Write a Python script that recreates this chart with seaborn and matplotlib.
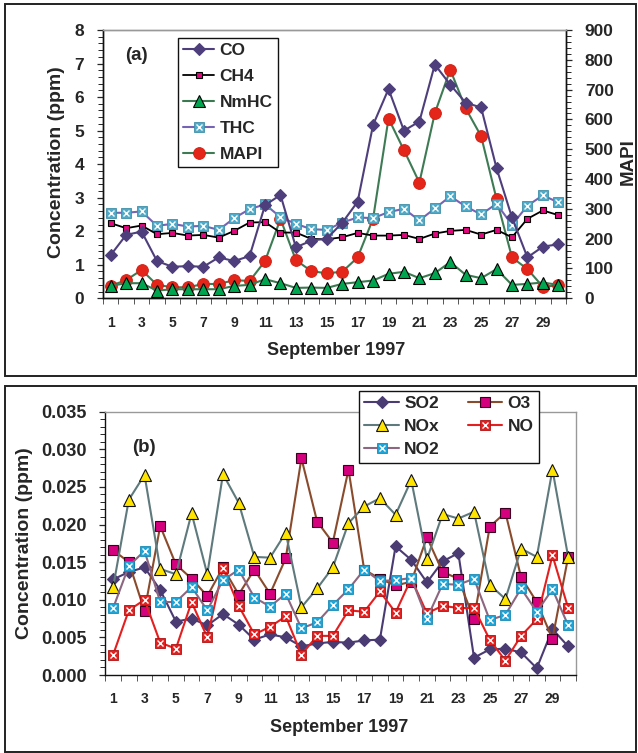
import numpy as np
import pandas as pd
import matplotlib
matplotlib.use("Agg")
import matplotlib.pyplot as plt
import seaborn as sns
from matplotlib.patches import Rectangle
from matplotlib.ticker import MultipleLocator, FixedLocator, FormatStrFormatter

# ---------------- data ----------------
days = list(range(1, 31))
day_labels = [str(d) for d in range(1, 30, 2)]

CO = [1.29, 1.89, 1.99, 1.11, 0.94, 0.96, 0.94, 1.22, 1.11, 1.26, 2.78, 3.08, 1.52, 1.72, 1.78,
      2.25, 2.88, 5.17, 6.24, 5.00, 5.27, 6.97, 6.37, 5.83, 5.69, 3.88, 2.41, 1.22, 1.54, 1.61]
CH4 = [2.24, 2.09, 2.17, 1.91, 1.95, 1.87, 1.89, 1.81, 2.01, 2.26, 2.27, 1.96, 1.96, 1.77, 1.76,
       1.82, 1.95, 1.87, 1.87, 1.89, 1.77, 1.93, 2.01, 2.04, 1.90, 2.04, 1.82, 2.37, 2.62, 2.48]
NmHC = [0.37, 0.45, 0.45, 0.23, 0.27, 0.27, 0.27, 0.27, 0.37, 0.40, 0.57, 0.45, 0.31, 0.32, 0.31,
        0.43, 0.48, 0.53, 0.73, 0.79, 0.60, 0.75, 1.08, 0.70, 0.60, 0.87, 0.40, 0.43, 0.47, 0.40]
THC = [2.55, 2.55, 2.59, 2.16, 2.22, 2.14, 2.16, 2.04, 2.39, 2.66, 2.80, 2.42, 2.22, 2.06, 2.04,
       2.26, 2.41, 2.39, 2.57, 2.67, 2.32, 2.68, 3.04, 2.74, 2.50, 2.82, 2.19, 2.76, 3.07, 2.86]
MAPI = [42, 61, 95, 45, 37, 37, 48, 48, 61, 58, 125, 266, 128, 91, 84,
        89, 137, 267, 603, 497, 388, 621, 767, 637, 544, 333, 137, 98, 39, 43]

SO2 = [0.0127, 0.0137, 0.0143, 0.0113, 0.0071, 0.0075, 0.0066, 0.0081, 0.0067, 0.0047, 0.0054, 0.0050,
       0.0038, 0.0042, 0.0044, 0.0043, 0.0046, 0.0047, 0.0171, 0.0153, 0.0123, 0.0151, 0.0162, 0.0023,
       0.0034, 0.0035, 0.0030, 0.0009, 0.0061, 0.0038]
O3 = [0.0166, 0.0150, 0.0085, 0.0198, 0.0147, 0.0128, 0.0105, 0.0143, 0.0107, 0.0140, 0.0108, 0.0155,
      0.0288, 0.0204, 0.0176, 0.0273, 0.0140, 0.0128, 0.0119, 0.0124, 0.0183, 0.0137, 0.0128, 0.0074,
      0.0197, 0.0216, 0.0130, 0.0097, 0.0048, 0.0157]
NOx = [0.0117, 0.0233, 0.0266, 0.0141, 0.0134, 0.0215, 0.0134, 0.0267, 0.0229, 0.0157, 0.0156, 0.0189,
       0.0090, 0.0115, 0.0143, 0.0202, 0.0224, 0.0235, 0.0213, 0.0259, 0.0154, 0.0214, 0.0208, 0.0217,
       0.0120, 0.0101, 0.0168, 0.0157, 0.0273, 0.0157]
NO = [0.0027, 0.0086, 0.0100, 0.0043, 0.0035, 0.0097, 0.0050, 0.0142, 0.0092, 0.0054, 0.0064, 0.0078,
      0.0027, 0.0052, 0.0052, 0.0086, 0.0084, 0.0111, 0.0083, 0.0128, 0.0082, 0.0092, 0.0089, 0.0089,
      0.0047, 0.0019, 0.0052, 0.0074, 0.0159, 0.0089]
NO2 = [0.0089, 0.0145, 0.0165, 0.0097, 0.0097, 0.0117, 0.0086, 0.0126, 0.0140, 0.0103, 0.0091, 0.0108,
       0.0062, 0.0070, 0.0093, 0.0114, 0.0140, 0.0125, 0.0126, 0.0129, 0.0075, 0.0121, 0.0120, 0.0128,
       0.0073, 0.0080, 0.0115, 0.0084, 0.0114, 0.0066]

# ---------------- style ----------------
sns.set_style("ticks")
plt.rcParams['font.family'] = ['Liberation Sans', 'DejaVu Sans']
plt.rcParams['font.weight'] = 'bold'
plt.rcParams['axes.labelweight'] = 'bold'

fig = plt.figure(figsize=(6.38, 7.53), dpi=100)
W, H = 638.0, 753.0


def fx(px):
    return px / W


def fy(py):
    return 1 - py / H


# panel frames
fig.add_artist(Rectangle((fx(5), fy(375.5)), fx(631), (375.5 - 4) / H, transform=fig.transFigure,
                         fill=False, edgecolor='#222222', linewidth=1.4))
fig.add_artist(Rectangle((fx(5), fy(751.5)), fx(631), (751.5 - 386) / H, transform=fig.transFigure,
                         fill=False, edgecolor='#222222', linewidth=1.4))

axA = fig.add_axes([fx(103), fy(298.3), fx(566 - 103), (298.3 - 30) / H])
axB = fig.add_axes([fx(105.3), fy(675), fx(576 - 105.3), (675 - 411.7) / H])


def draw(ax, y, color, marker, ms, mfc, mec, lw=1.5, mew=0.8, label=None, z=3):
    sns.lineplot(x=days, y=y, ax=ax, color=color, linewidth=lw, marker=marker, markersize=ms,
                 markerfacecolor=mfc, markeredgecolor=mec, markeredgewidth=mew, legend=False,
                 label=label, zorder=z)
    return ax.lines[-1]


def xover(ax, y, color, ms, mew=1.0, z=4):
    sns.lineplot(x=days, y=y, ax=ax, color=color, linestyle='none', marker='x', markersize=ms,
                 markeredgewidth=mew, legend=False, zorder=z)
    return ax.lines[-1]


def style_x(ax):
    ax.set_xlim(0.5, 30.5)
    ax.xaxis.set_major_locator(FixedLocator(list(range(1, 30, 2))))
    ax.xaxis.set_minor_locator(FixedLocator(list(np.arange(0.5, 31, 1.0))))
    ax.set_xticklabels(day_labels, fontsize=10, fontweight='bold')
    ax.tick_params(axis='x', which='major', length=0, pad=12.5)
    ax.tick_params(axis='x', which='minor', length=4, width=0.7, color='#555555', direction='out')


# ---------------- panel (a) ----------------
axA2 = axA.twinx()
axA.set_zorder(axA2.get_zorder() + 1)
axA.patch.set_visible(False)

hCO = draw(axA, CO, '#4e3f7c', 'D', 6.5, '#4e3f7c', '#4e3f7c', z=5)
hCH4 = draw(axA, CH4, '#000000', 's', 4.2, '#e0087c', '#000000', lw=1.3, z=4)
hNm = draw(axA, NmHC, '#3b7a50', '^', 8, '#00a550', '#000000', z=3)
hTHC = draw(axA, THC, '#7564b4', 's', 7.5, '#4eaac8', '#3f8fa8', mew=0.6, z=3)
hTHCx = xover(axA, THC, '#111111', 5, mew=1.0, z=4)
sns.lineplot(x=days, y=MAPI, ax=axA2, color='#3e7b55', linewidth=1.5, marker='o', markersize=8.5,
             markerfacecolor='#e4261a', markeredgecolor='#d01c10', markeredgewidth=0.6, legend=False)
hMAPI = axA2.lines[-1]

style_x(axA)
axA.set_ylim(0, 8)
axA2.set_ylim(0, 900)

axA.yaxis.set_major_locator(MultipleLocator(1))
axA.yaxis.set_minor_locator(MultipleLocator(0.2))
axA.tick_params(axis='y', which='major', length=4.5, width=0.9, pad=9, labelsize=12.5)
axA.tick_params(axis='y', which='minor', length=3.5, width=0.7)
for t in axA.get_yticklabels():
    t.set_fontweight('bold')

axA2.yaxis.set_major_locator(MultipleLocator(100))
axA2.yaxis.set_minor_locator(MultipleLocator(20))
axA2.tick_params(axis='y', which='major', length=4.5, width=0.9, pad=9, labelsize=12.5)
axA2.tick_params(axis='y', which='minor', length=3.5, width=0.7)
for t in axA2.get_yticklabels():
    t.set_fontweight('bold')

for ax in (axA, axA2):
    for s in ('left', 'bottom', 'right'):
        ax.spines[s].set_color('#111111')
        ax.spines[s].set_linewidth(1.0)
        ax.spines[s].set_visible(True)
    ax.spines['top'].set_visible(True)
    ax.spines['top'].set_color('#999999')
    ax.spines['top'].set_linewidth(1.0)

axA.set_xlabel('September 1997', fontsize=13, fontweight='bold', va='center')
axA.xaxis.set_label_coords(0.504, -0.196)
axA.set_ylabel('Concentration (ppm)', fontsize=14, fontweight='bold', va='center')
axA.yaxis.set_label_coords(-0.1015, 0.506)
axA2.set_ylabel('MAPI', fontsize=13.5, fontweight='bold', va='center')
axA2.yaxis.set_label_coords(1.134, 0.51)

axA.text((136 - 103) / 463, (298.3 - 55.5) / 268.3, '(a)', fontsize=13.5, fontweight='bold',
         ha='center', va='center', transform=axA.transAxes)

legA = fig.legend([hCO, hCH4, hNm, (hTHC, hTHCx), hMAPI], ['CO', 'CH4', 'NmHC', 'THC', 'MAPI'],
                  loc='upper left', bbox_to_anchor=(fx(178), fy(38)), fontsize=12.5,
                  frameon=True, fancybox=False, edgecolor='#111111', framealpha=1,
                  handlelength=1.8, handletextpad=0.3, labelspacing=0.62, borderpad=0.3,
                  borderaxespad=0)
legA.get_frame().set_linewidth(1.0)
for t in legA.get_texts():
    t.set_fontweight('bold')

# ---------------- panel (b) ----------------
hSO2 = draw(axB, SO2, '#4a3b72', 'D', 6, '#4a3b72', '#4a3b72', z=3)
hO3 = draw(axB, O3, '#8a4b2c', 's', 7.5, '#d4007e', '#3a0020', z=3)
hNOx = draw(axB, NOx, '#5f7a7c', '^', 9, '#ffe400', '#111111', z=3)
hNO = draw(axB, NO, '#e41f1f', 's', 7.5, '#e41f1f', '#b01010', mew=0.6, z=3)
hNOxx = xover(axB, NO, '#3aa0c8', 5, mew=1.0, z=4)
hNO2 = draw(axB, NO2, '#8d6680', 's', 7.5, '#1ea4d6', '#1a8ab4', mew=0.6, z=3)
hNO2x = xover(axB, NO2, '#8d6680', 5, mew=1.0, z=4)

style_x(axB)
axB.set_ylim(0, 0.035)
axB.yaxis.set_major_locator(MultipleLocator(0.005))
axB.yaxis.set_minor_locator(MultipleLocator(0.001))
axB.yaxis.set_major_formatter(FormatStrFormatter('%.3f'))
axB.tick_params(axis='y', which='major', length=4.5, width=0.9, pad=9, labelsize=13)
axB.tick_params(axis='y', which='minor', length=3.5, width=0.7)
for t in axB.get_yticklabels():
    t.set_fontweight('bold')

for s in ('left', 'bottom'):
    axB.spines[s].set_color('#111111')
    axB.spines[s].set_linewidth(1.0)
for s in ('top', 'right'):
    axB.spines[s].set_visible(True)
    axB.spines[s].set_color('#999999')
    axB.spines[s].set_linewidth(1.0)

axB.set_xlabel('September 1997', fontsize=13, fontweight='bold', va='center')
axB.xaxis.set_label_coords(0.4976, -0.201)
axB.set_ylabel('Concentration (ppm)', fontsize=14, fontweight='bold', va='center')
axB.yaxis.set_label_coords(-0.1727, 0.501)

axB.text((144 - 105.3) / 470.7, (675 - 447.5) / 263.3, '(b)', fontsize=13.5, fontweight='bold',
         ha='center', va='center', transform=axB.transAxes)

legB = fig.legend([hSO2, hNOx, (hNO2, hNO2x), hO3, (hNO, hNOxx)],
                  ['SO2', 'NOx', 'NO2', 'O3', 'NO'], ncol=2,
                  loc='upper left', bbox_to_anchor=(fx(359), fy(391)), fontsize=12.5,
                  frameon=True, fancybox=False, edgecolor='#111111', framealpha=1,
                  handlelength=2.0, handletextpad=0.3, labelspacing=0.45, borderpad=0.3,
                  columnspacing=1.6, borderaxespad=0)
legB.get_frame().set_linewidth(1.0)
for t in legB.get_texts():
    t.set_fontweight('bold')

fig.savefig('out.png', dpi=100)
